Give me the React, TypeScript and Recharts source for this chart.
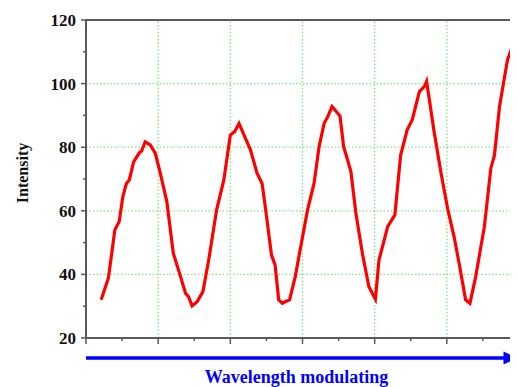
import { LineChart, Line, XAxis, YAxis, ReferenceLine } from 'recharts';

const xs = [
  0.21, 0.31, 0.4, 0.46, 0.51, 0.56, 0.6, 0.66, 0.74, 0.77, 0.82, 0.89, 0.96,
  1.03, 1.12, 1.21, 1.31, 1.38, 1.42, 1.47, 1.54, 1.62, 1.7, 1.81, 1.91, 2.0,
  2.06, 2.12, 2.19, 2.28, 2.37, 2.44, 2.49, 2.57, 2.62, 2.67, 2.72, 2.76, 2.82,
  2.9, 2.95, 3.07, 3.16, 3.23, 3.3, 3.35, 3.41, 3.52, 3.57, 3.67, 3.74, 3.83,
  3.92, 4.01, 4.06, 4.18, 4.28, 4.36, 4.45, 4.52, 4.62, 4.69, 4.72, 4.82, 4.92,
  5.01, 5.1, 5.17, 5.26, 5.32, 5.4, 5.52, 5.61, 5.66, 5.73, 5.84, 5.89, 5.94,
];
const intensity = [
  32, 38.8, 54, 56.6, 64.4, 68.6, 69.7, 75.4, 78.3, 78.8, 81.7, 80.7, 78.1,
  71.8, 62.9, 46.6, 39.3, 34, 33, 30.1, 31.4, 34.6, 44.5, 60.3, 69.7, 83.8,
  84.9, 87.5, 83.8, 79.1, 71.8, 68.6, 60.3, 46.1, 43, 32, 30.9, 31.4, 32,
  39.3, 45.6, 60.3, 68.6, 80.2, 87.5, 89.6, 92.8, 89.8, 80.2, 72.4, 59.2, 46.6,
  36.1, 32.2, 44.5, 55, 58.7, 77.5, 85.4, 88.6, 97.5, 99.1, 100.7, 85.4, 71.8,
  60.8, 51.9, 43.5, 32, 30.9, 39.3, 55, 73.4, 77.5, 92.8, 107.4, 110.6, 113.2,
];

const yTicks = [20, 30, 40, 50, 60, 70, 80, 90, 100, 110, 120];
const xTicks = [0, 0.5, 1, 1.5, 2, 2.5, 3, 3.5, 4, 4.5, 5, 5.5, 6];
const gridY = [40, 60, 80, 100];
const gridX = [1, 2, 3, 4, 5];

const data = xs.map((x, i) => ({ x, y: intensity[i] }));

const FONT = '"Liberation Serif", "Times New Roman", serif';
const AXIS = '#5a5a5a';
const GRID = '#7dea7d';

function XTick({ x, y, payload }: any) {
  const major = Number.isInteger(payload.value);
  return <line x1={x} x2={x} y1={y} y2={y + (major ? 6 : 3)} stroke={AXIS} strokeWidth={1.5} />;
}

function YTick({ x, y, payload }: any) {
  const major = payload.value % 20 === 0;
  return (
    <g>
      <line x1={x - (major ? 5 : 3)} x2={x} y1={y} y2={y} stroke={AXIS} strokeWidth={1.5} />
      {major && (
        <text x={x - 10} y={y} dy="0.35em" textAnchor="end" fontFamily={FONT} fontWeight="bold" fontSize={17} fill="#111">
          {payload.value}
        </text>
      )}
    </g>
  );
}

function XLabel({ viewBox }: any) {
  const { x, y, width } = viewBox;
  const ay = y + 20;
  const end = x + width - 1.5;
  return (
    <g>
      <line x1={x} x2={end - 12} y1={ay} y2={ay} stroke="#0000ff" strokeWidth={3.5} />
      <polygon points={`${end - 14},${ay - 6.5} ${end},${ay} ${end - 14},${ay + 6.5}`} fill="#0000ff" />
      <text x={x + width / 2 - 6} y={y + 45} textAnchor="middle" fontFamily={FONT} fontWeight="bold" fontSize={18} fill="#0000ff">
        Wavelength modulating
      </text>
    </g>
  );
}

function YLabel({ viewBox }: any) {
  const { y, height } = viewBox;
  const cx = 22;
  const cy = y + height / 2 - 6;
  return (
    <text x={cx} y={cy} transform={`rotate(-90 ${cx} ${cy})`} textAnchor="middle" dy="0.35em" fontFamily={FONT} fontWeight="bold" fontSize={16} fill="#111">
      Intensity
    </text>
  );
}

export default function App() {
  return (
    <div style={{ margin: '-8px 0 0 -8px', width: 518, height: 387, overflow: 'hidden', background: '#fff' }}>
      <LineChart width={530} height={387} data={data} margin={{ top: 20, right: 11, bottom: 0, left: 0 }}>
        {gridY.map((v) => (
          <ReferenceLine key={`gy${v}`} y={v} stroke={GRID} strokeWidth={1.3} strokeDasharray="1.5 2" />
        ))}
        {gridX.map((v) => (
          <ReferenceLine key={`gx${v}`} x={v} stroke={GRID} strokeWidth={1.3} strokeDasharray="1.5 2" />
        ))}
        <ReferenceLine y={120} stroke={AXIS} strokeWidth={2} />
        <XAxis
          dataKey="x"
          type="number"
          domain={[0, 6]}
          ticks={xTicks}
          allowDataOverflow
          height={49}
          tickSize={0}
          tickMargin={0}
          tickLine={false}
          tick={<XTick />}
          axisLine={{ stroke: AXIS, strokeWidth: 2 }}
          label={<XLabel />}
        />
        <YAxis
          type="number"
          domain={[20, 120]}
          ticks={yTicks}
          allowDataOverflow
          width={86}
          tickSize={0}
          tickMargin={0}
          tickLine={false}
          tick={<YTick />}
          axisLine={{ stroke: AXIS, strokeWidth: 2 }}
          label={<YLabel />}
          interval={0}
        />
        <Line
          type="linear"
          dataKey="y"
          stroke="#ff0000"
          strokeWidth={3.2}
          dot={false}
          isAnimationActive={false}
        />
      </LineChart>
    </div>
  );
}
